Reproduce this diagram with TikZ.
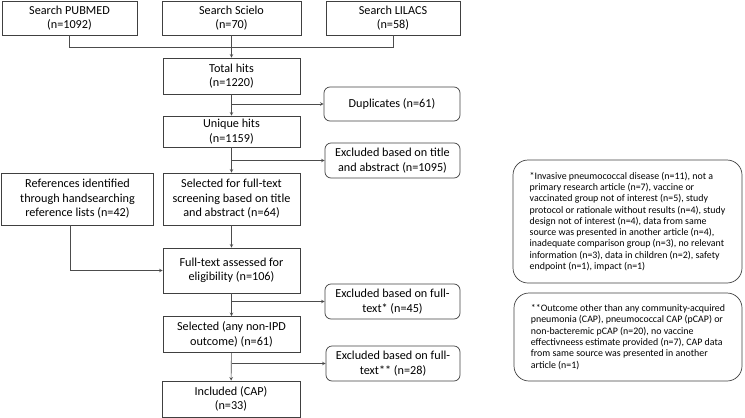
\documentclass[tikz,border=0pt]{standalone}
\usepackage{fontspec}
\setmainfont{Carlito}
\usepackage{tikz}
\usetikzlibrary{positioning, arrows}

\tikzset{
  box/.style={draw=black!75, line width=0.7pt, align=center, inner sep=2pt,
    font=\fontsize{12.2}{14.5}\selectfont},
  exbox/.style={box, rounded corners=6pt},
  notebox/.style={draw=black!75, line width=0.7pt, rounded corners=15pt, align=left,
    inner sep=0pt, font=\fontsize{9.9}{11.3}\selectfont},
  link/.style={draw=black!70, line width=0.6pt}
}

\begin{document}
\begin{tikzpicture}[x=1pt, y=-1pt]
            \useasboundingbox (0,0) rectangle (745,418);

            \node[box, minimum width=135pt, minimum height=34pt] (pubmed) at (69.5, 18) {Search PUBMED\\(n=1092)};
            \node[box, minimum width=139pt, minimum height=34pt] (scielo) at (231.5, 18) {Search Scielo\\(n=70)};
            \node[box, minimum width=134pt, minimum height=34pt] (lilacs) at (393, 18) {Search LILACS\\(n=58)};
            \node[box, minimum width=137pt, minimum height=36pt] (total) at (231.5, 76) {Total hits\\(n=1220)};
            \node[exbox, minimum width=136pt, minimum height=34pt] (dup) at (392, 104) {Duplicates (n=61)};
            \node[box, minimum width=137pt, minimum height=31pt] (unique) at (231.5, 131.5) {Unique hits\\(n=1159)};
            \node[exbox, minimum width=135pt, minimum height=35pt] (extitle) at (392.5, 160.5) {Excluded based on title\\and abstract (n=1095)};
            \node[box, minimum width=137pt, minimum height=52pt] (selected) at (231.5, 199) {Selected for full-text\\screening based on title\\and abstract (n=64)};
            \node[box, minimum width=152pt, minimum height=52pt] (refs) at (77.5, 199) {References identified\\through handsearching\\reference lists (n=42)};
            \node[box, minimum width=137pt, minimum height=45pt] (fulltext) at (231.5, 270.5) {Full-text assessed for\\eligibility (n=106)};
            \node[exbox, minimum width=135pt, minimum height=35pt] (exfull) at (392.5, 301.5) {Excluded based on full-\\text* (n=45)};
            \node[box, minimum width=137pt, minimum height=36pt] (nonipd) at (231.5, 334.5) {Selected (any non-IPD\\outcome) (n=61)};
            \node[exbox, minimum width=134pt, minimum height=35pt] (exfulltwo) at (393, 363.5) {Excluded based on full-\\text** (n=28)};
            \node[box, minimum width=138pt, minimum height=36pt] (included) at (231, 399) {Included (CAP)\\(n=33)};

            % footnotes
            \node[notebox, minimum width=229pt, minimum height=123pt] (noteone) at (627.5, 221.5) {%
              *Invasive pneumococcal disease (n=11), not a\\
              primary research article (n=7), vaccine or\\
              vaccinated group not of interest (n=5), study\\
              protocol or rationale without results (n=4), study\\
              design not of interest (n=4), data from same\\
              source was presented in another article (n=4),\\
              inadequate comparison group (n=3), no relevant\\
              information (n=3), data in children (n=2), safety\\
              endpoint (n=1), impact (n=1)};
            \node[notebox, minimum width=228pt, minimum height=88pt] (notetwo) at (628, 337) {%
              **Outcome other than any community-acquired\\
              pneumonia (CAP), pneumococcal CAP (pCAP) or\\
              non-bacteremic pCAP (n=20), no vaccine\\
              effectivneess estimate provided (n=7), CAP data\\
              from same source was presented in another\\
              article (n=1)};

            \draw[link] (pubmed.south) -- ++(0, 12) -| (lilacs.south);
            \draw[link, -stealth] (scielo) -- (total);
            \draw[link, -stealth] (total) -- (unique);
            \draw[link, -stealth] (dup.west -| total.south) -- (dup.west);
            \draw[link, -stealth] (unique) -- (selected);
            \draw[link, -stealth] (extitle.west -| unique.south) -- (extitle.west);
            \draw[link, -stealth] (selected) -- (fulltext);
            \draw[link, -stealth] ([xshift=-7.5pt]refs.south) |- (fulltext.west);
            \draw[link, -stealth] (fulltext) -- (nonipd);
            \draw[link, -stealth] (exfull.west -| fulltext.south) -- (exfull.west);
            \draw[link, -stealth] (nonipd) -- (included);
            \draw[link, -stealth] (exfulltwo.west -| nonipd.south) -- (exfulltwo.west);
        \end{tikzpicture}
\end{document}
